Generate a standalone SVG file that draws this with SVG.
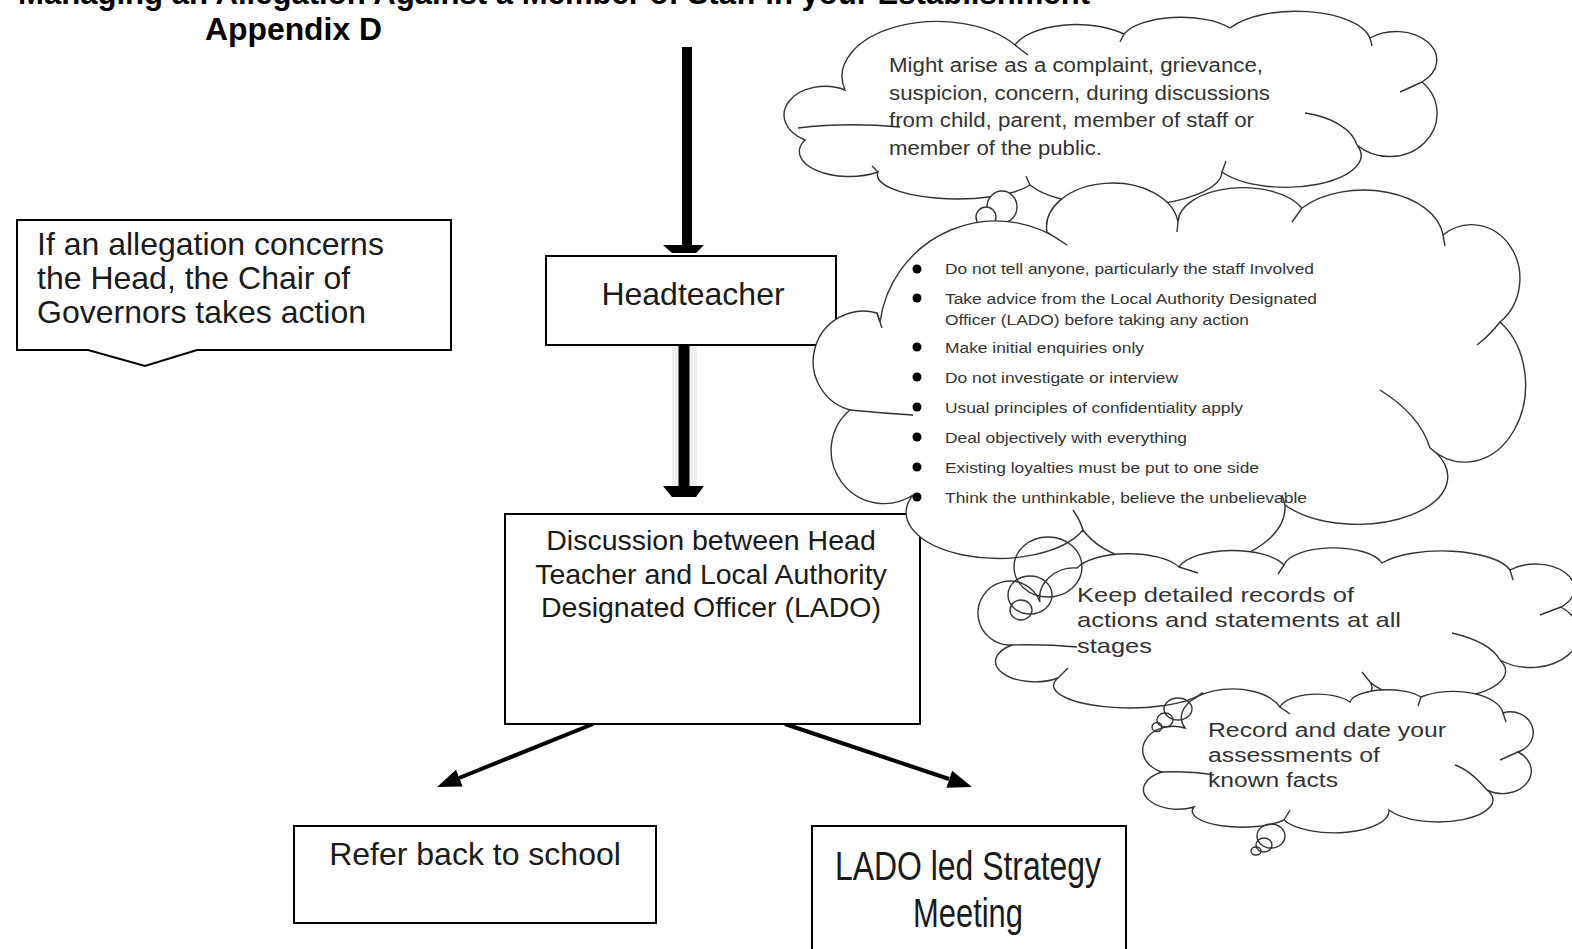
<svg xmlns="http://www.w3.org/2000/svg" width="1572" height="949" viewBox="0 0 1572 949">
<style>
text{font-family:"Liberation Sans",Arial,sans-serif;fill:#1a1a1a}
.title{font-weight:bold;font-size:31px;fill:#000}
.box{fill:#fff;stroke:#000;stroke-width:2}
.cloud{fill:#fff;stroke:#333;stroke-width:1.4}
.tail{fill:none;stroke:#333;stroke-width:1.4}
.bub{fill:none;stroke:#333;stroke-width:1.4}
.ct{fill:#333}
.bt{font-size:15.5px;fill:#333}
.bul{fill:#000}
.shaft{stroke:#000;fill:none}
.head{fill:#000}
</style>

<text class="title" x="18" y="4" textLength="1072" lengthAdjust="spacingAndGlyphs">Managing an Allegation Against a Member of Staff in your Establishment</text>
<text class="title" x="205" y="40" textLength="177" lengthAdjust="spacingAndGlyphs">Appendix D</text>

<g id="connectors">
  <line class="shaft" x1="687" y1="47" x2="687" y2="246" stroke-width="10"/>
  <polygon class="head" points="663,245 704,245 696,253 672,253"/>
  <rect x="672" y="345" width="25" height="141" fill="#efefef"/>
  <line class="shaft" x1="684" y1="345" x2="684" y2="487" stroke-width="11"/>
  <polygon class="head" points="663,486 704,486 696,497 672,497"/>
  <line class="shaft" x1="593" y1="724" x2="459" y2="778" stroke-width="4"/>
  <polygon class="head" points="437,787 462.6,786.5 456,769.7"/>
  <line class="shaft" x1="785" y1="724" x2="949" y2="779" stroke-width="4"/>
  <polygon class="head" points="972,787 946.4,787.8 952.2,770.8"/>
</g>

<g id="callout">
  <path class="box" stroke="#333" d="M17 220 H451 V350 H197 L145 366 L88 350 H17 Z"/>
  <text x="37" y="255" font-size="32">If an allegation concerns</text>
  <text x="37" y="289" font-size="32">the Head, the Chair of</text>
  <text x="37" y="323" font-size="32">Governors takes action</text>
</g>

<g id="headteacher">
  <rect class="box" x="546" y="256" width="290" height="89"/>
  <text x="693" y="305" font-size="32" text-anchor="middle">Headteacher</text>
</g>

<g id="discussion">
  <rect class="box" x="505" y="514" width="415" height="210"/>
  <text x="711" y="550" font-size="28.5" text-anchor="middle">Discussion between Head</text>
  <text x="711" y="584" font-size="28.5" text-anchor="middle">Teacher and Local Authority</text>
  <text x="711" y="617" font-size="28.5" text-anchor="middle">Designated Officer (LADO)</text>
</g>

<g id="refer">
  <rect class="box" x="294" y="826" width="362" height="97"/>
  <text x="475" y="865" font-size="32" text-anchor="middle">Refer back to school</text>
</g>

<g id="lado">
  <rect class="box" x="812" y="826" width="314" height="140" stroke-width="2.5"/>
  <text x="968" y="880" font-size="41" text-anchor="middle" textLength="266" lengthAdjust="spacingAndGlyphs">LADO led Strategy</text>
  <text x="968" y="927" font-size="41" text-anchor="middle" textLength="110" lengthAdjust="spacingAndGlyphs">Meeting</text>
</g>

<g id="cloud-origin">
  <path class="cloud" d="M845 90 A95 55 0 0 1 1015 45 A65 30 0 0 1 1124 34 A60 25 0 0 1 1230 28 A75 32 0 0 1 1370 38 A40 28 0 0 1 1422 82 A42 38 0 0 1 1357 145 A75 32 0 0 1 1222 172 A100 35 0 0 1 1030 185 A80 24 0 0 1 878 172 A50 25 0 0 1 805 140 A40 28 0 0 1 845 90 Z"/>
  <path class="tail" d="M798 128 C830 124 868 124 900 127 M1305 113 A70 40 0 0 1 1357 145 M1400 92 L1422 82 M1015 45 L1028 55 M1222 172 L1226 161 M1370 38 L1372 46 M1124 34 L1120 42 M1030 185 L1026 176 M878 172 L872 166"/>
  <text class="ct" x="889" y="72" font-size="20" textLength="374" lengthAdjust="spacingAndGlyphs">Might arise as a complaint, grievance,</text>
  <text class="ct" x="889" y="100" font-size="20" textLength="381" lengthAdjust="spacingAndGlyphs">suspicion, concern, during discussions</text>
  <text class="ct" x="889" y="127" font-size="20" textLength="365" lengthAdjust="spacingAndGlyphs">from child, parent, member of staff or</text>
  <text class="ct" x="889" y="155" font-size="20" textLength="213" lengthAdjust="spacingAndGlyphs">member of the public.</text>
</g>

<g id="bubbles-1">
  <ellipse class="cloud" cx="1002" cy="207" rx="15" ry="16"/>
  <circle class="cloud" cx="986" cy="217" r="10"/>
</g>

<g id="cloud-advice">
  <path class="cloud" d="M880 322 A117 117 0 0 1 1067 245 L1047 232 A60 40 0 0 1 1178 222 A65 35 0 0 1 1302 208 A80 50 0 0 1 1443 235 A45 50 0 0 1 1500 322 A55 70 0 0 1 1430 448 A85 45 0 0 1 1285 505 A105 60 0 0 1 1083 530 A90 45 0 0 1 913 495 A53 53 0 0 1 850 410 A50 50 0 1 1 877 313 Z"/>
  <path class="tail" d="M1178 222 L1177 232 M1302 208 L1292 222 M1443 235 L1445 246 M1500 322 Q1490 335 1477 345 M1380 390 Q1420 415 1430 448 M850 410 Q880 413 913 415 M913 495 L920 497 M1073 510 Q1080 520 1083 530 M877 313 L882 328 M1285 505 L1282 495"/>
  <g class="bul">
    <circle cx="917" cy="269" r="4.5"/><circle cx="917" cy="298" r="4.5"/><circle cx="917" cy="347" r="4.5"/><circle cx="917" cy="377" r="4.5"/><circle cx="917" cy="407" r="4.5"/><circle cx="917" cy="437" r="4.5"/><circle cx="917" cy="467" r="4.5"/><circle cx="917" cy="497" r="4.5"/>
  </g>
  <text class="bt" x="945" y="274" textLength="369" lengthAdjust="spacingAndGlyphs">Do not tell anyone, particularly the staff Involved</text>
  <text class="bt" x="945" y="304" textLength="372" lengthAdjust="spacingAndGlyphs">Take advice from the Local Authority Designated</text>
  <text class="bt" x="945" y="325" textLength="304" lengthAdjust="spacingAndGlyphs">Officer (LADO) before taking any action</text>
  <text class="bt" x="945" y="353" textLength="199" lengthAdjust="spacingAndGlyphs">Make initial enquiries only</text>
  <text class="bt" x="945" y="383" textLength="233" lengthAdjust="spacingAndGlyphs">Do not investigate or interview</text>
  <text class="bt" x="945" y="413" textLength="298" lengthAdjust="spacingAndGlyphs">Usual principles of confidentiality apply</text>
  <text class="bt" x="945" y="443" textLength="242" lengthAdjust="spacingAndGlyphs">Deal objectively with everything</text>
  <text class="bt" x="945" y="473" textLength="314" lengthAdjust="spacingAndGlyphs">Existing loyalties must be put to one side</text>
  <text class="bt" x="945" y="503" textLength="362" lengthAdjust="spacingAndGlyphs">Think the unthinkable, believe the unbelievable</text>
</g>

<g id="cloud-records">
  <path class="cloud" d="M1077 568 A55 22 0 0 1 1179 567 A55 22 0 0 1 1284 565 A50 20 0 0 1 1382 563 A70 25 0 0 1 1510 570 A35 22 0 0 1 1561 607 A40 28 0 0 1 1500 660 A70 28 0 0 1 1370 682 A85 25 0 0 1 1202 693 A75 22 0 0 1 1058 678 A35 18 0 0 1 1012 645 A32 32 0 1 1 1040 602 A35 30 0 0 1 1077 568 Z"/>
  <path class="tail" d="M1012 645 Q1045 644 1077 647 M1179 567 L1198 573 M1510 570 L1513 580 M1540 615 L1561 607 M1452 633 Q1490 642 1500 660 M1058 678 L1068 668 M1370 682 L1362 672 M1284 565 L1278 574"/>
  <text class="ct" x="1077" y="602" font-size="21" textLength="277" lengthAdjust="spacingAndGlyphs">Keep detailed records of</text>
  <text class="ct" x="1077" y="627" font-size="21" textLength="324" lengthAdjust="spacingAndGlyphs">actions and statements at all</text>
  <text class="ct" x="1077" y="653" font-size="21" textLength="75" lengthAdjust="spacingAndGlyphs">stages</text>
</g>

<g id="cloud-assess">
  <path class="cloud" d="M1185 728 A50 28 0 0 1 1280 707 A38 16 0 0 1 1350 702 A38 14 0 0 1 1421 697 A50 24 0 0 1 1503 713 A22 20 0 0 1 1518 752 A28 22 0 0 1 1487 790 A50 20 0 0 1 1389 810 A55 22 0 0 1 1284 820 A50 16 0 0 1 1194 807 A28 16 0 0 1 1162 772 A26 20 0 0 1 1185 728 Z"/>
  <path class="tail" d="M1162 772 Q1190 771 1214 775 M1280 707 L1290 714 M1421 697 L1418 706 M1503 713 L1506 722 M1518 752 L1500 760 M1487 790 Q1470 770 1455 765 M1284 820 L1290 810"/>
  <text class="ct" x="1208" y="737" font-size="20" textLength="238" lengthAdjust="spacingAndGlyphs">Record and date your</text>
  <text class="ct" x="1208" y="762" font-size="20" textLength="172" lengthAdjust="spacingAndGlyphs">assessments of</text>
  <text class="ct" x="1208" y="787" font-size="20" textLength="130" lengthAdjust="spacingAndGlyphs">known facts</text>
</g>

<g id="bubbles-2">
  <ellipse class="bub" cx="1048" cy="567" rx="34" ry="30"/>
  <ellipse class="bub" cx="1030" cy="595" rx="22" ry="19"/>
  <ellipse class="bub" cx="1021" cy="610" rx="11" ry="10"/>
</g>
<g id="bubbles-3">
  <ellipse class="bub" cx="1178" cy="709" rx="14" ry="11"/>
  <ellipse class="bub" cx="1165" cy="720" rx="8" ry="7"/>
  <ellipse class="bub" cx="1157" cy="727" rx="5" ry="4.5"/>
</g>
<g id="bubbles-4">
  <ellipse class="bub" cx="1271" cy="836" rx="14" ry="12"/>
  <ellipse class="bub" cx="1264" cy="845" rx="8" ry="7"/>
  <ellipse class="bub" cx="1256" cy="851" rx="5" ry="4"/>
</g>
</svg>
